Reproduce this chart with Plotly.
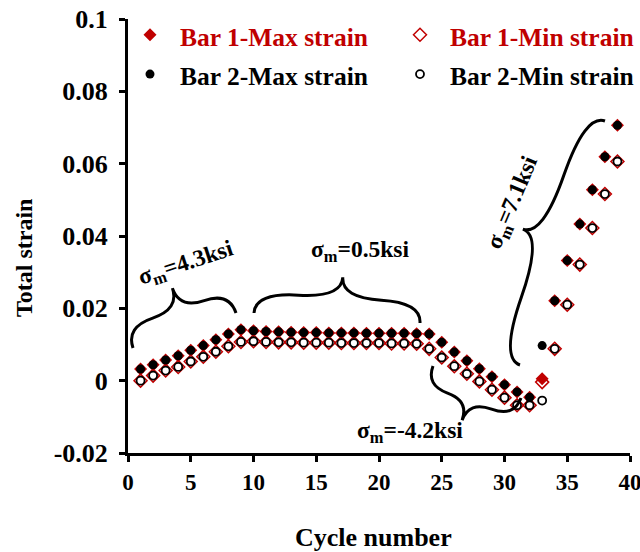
import math
import plotly.graph_objects as go

# ---------------- data ----------------
cycles = list(range(1, 40))

bar1_max = [0.0032, 0.0044, 0.0057, 0.0069, 0.0084, 0.0097, 0.0113, 0.0129, 0.0141, 0.0138,
            0.0136, 0.0135, 0.0134, 0.0133, 0.0133, 0.0132, 0.0132, 0.0132, 0.0131, 0.0131,
            0.0131, 0.0131, 0.0130, 0.0129, 0.0106, 0.0079, 0.0055, 0.0033, 0.0011, -0.0011,
            -0.0031, -0.0046, 0.0005, 0.0221, 0.0332, 0.0433, 0.0528, 0.0619, 0.0706]
bar2_max = [0.0032, 0.0044, 0.0057, 0.0069, 0.0084, 0.0097, 0.0113, 0.0129, 0.0141, 0.0138,
            0.0136, 0.0135, 0.0134, 0.0133, 0.0133, 0.0132, 0.0132, 0.0132, 0.0131, 0.0131,
            0.0131, 0.0131, 0.0130, 0.0129, 0.0106, 0.0079, 0.0055, 0.0033, 0.0011, -0.0011,
            -0.0031, -0.0046, 0.0097, 0.0221, 0.0332, 0.0433, 0.0528, 0.0619, 0.0706]
bar1_min = [0.0000, 0.0014, 0.0028, 0.0038, 0.0053, 0.0066, 0.0080, 0.0095, 0.0107, 0.0109,
            0.0107, 0.0106, 0.0106, 0.0105, 0.0105, 0.0105, 0.0104, 0.0104, 0.0104, 0.0104,
            0.0103, 0.0103, 0.0102, 0.0088, 0.0064, 0.0040, 0.0019, -0.0002, -0.0025, -0.0047,
            -0.0068, -0.0068, -0.0004, 0.0088, 0.0210, 0.0321, 0.0422, 0.0516, 0.0606]
bar2_min = [0.0000, 0.0014, 0.0028, 0.0038, 0.0053, 0.0066, 0.0080, 0.0095, 0.0107, 0.0109,
            0.0107, 0.0106, 0.0106, 0.0105, 0.0105, 0.0105, 0.0104, 0.0104, 0.0104, 0.0104,
            0.0103, 0.0103, 0.0102, 0.0088, 0.0064, 0.0040, 0.0019, -0.0002, -0.0025, -0.0047,
            -0.0068, -0.0068, -0.0055, 0.0088, 0.0210, 0.0321, 0.0422, 0.0516, 0.0606]

x_ticks = [0, 5, 10, 15, 20, 25, 30, 35, 40]
y_ticks = [-0.02, 0, 0.02, 0.04, 0.06, 0.08, 0.1]
y_tick_text = ["-0.02", "0", "0.02", "0.04", "0.06", "0.08", "0.1"]

series_names = ["Bar 1-Max strain", "Bar 1-Min strain", "Bar 2-Max strain", "Bar 2-Min strain"]

# ---------------- style / layout ----------------
RED = "#C00000"
FONT = "Liberation Serif"
W, H = 640, 552
ML, MR, MT, MB = 128, 10, 19, 99
PW, PH = W - ML - MR, H - MT - MB
XR = (0, 40)
YR = (-0.02, 0.1)


def px2data(px, py):
    x = XR[0] + (px - ML) / PW * (XR[1] - XR[0])
    y = YR[1] - (py - MT) / PH * (YR[1] - YR[0])
    return x, y


def px2paper(px, py):
    return (px - ML) / PW, 1 - (py - MT) / PH


def brace_path(p1, p2, w, f=0.5, q=0.5):
    (x1, y1), (x2, y2) = p1, p2
    L = math.hypot(x2 - x1, y2 - y1)
    ux, uy = (x2 - x1) / L, (y2 - y1) / L
    nx, ny = uy, -ux

    def pt(t, h):
        return (x1 + t * L * ux + h * nx, y1 + t * L * uy + h * ny)

    c1 = (x1 + q * w * nx, y1 + q * w * ny)
    m1 = pt(f / 2, (1 - q) * w)
    tip = pt(f, w)
    c2 = (x2 + q * w * nx, y2 + q * w * ny)
    m2 = pt(f + (1 - f) / 2, (1 - q) * w)

    def s(p):
        d = px2data(*p)
        return f"{d[0]:.4f},{d[1]:.6f}"

    return (f"M {s(p1)} Q {s(c1)} {s(m1)} T {s(tip)} "
            f"M {s(p2)} Q {s(c2)} {s(m2)} T {s(tip)}")


def legend_label(text, color):
    return f'<span style="color:{color};font-size:25.5px">{text}</span>'


fig = go.Figure()

fig.add_trace(go.Scatter(
    x=cycles, y=bar1_max, mode="markers", name=legend_label(series_names[0], RED),
    marker=dict(symbol="diamond", size=10, color=RED, line=dict(width=0)), cliponaxis=False))
fig.add_trace(go.Scatter(
    x=cycles, y=bar1_min, mode="markers", name=legend_label(series_names[1], RED),
    marker=dict(symbol="diamond-open", size=10, color=RED, line=dict(width=1.5, color=RED)), cliponaxis=False))
fig.add_trace(go.Scatter(
    x=cycles, y=bar2_max, mode="markers", name=legend_label(series_names[2], "black"),
    marker=dict(symbol="circle", size=9, color="black", line=dict(width=0)), cliponaxis=False))
fig.add_trace(go.Scatter(
    x=cycles, y=bar2_min, mode="markers", name=legend_label(series_names[3], "black"),
    marker=dict(symbol="circle", size=8, color="white", line=dict(width=1.8, color="black")), cliponaxis=False))

# braces (pixel anchor points, converted through axis scales)
braces = [
    ((133, 348), (236, 313), 44, 0.52),
    ((254, 313), (420, 323), 41, 0.52),
    ((433, 366), (521, 398), -41, 0.49),
    ((605, 121), (520, 365), -42, 0.5),
]
shapes = []
for p1, p2, w, f in braces:
    shapes.append(dict(type="path", xref="x", yref="y", path=brace_path(p1, p2, w, f),
                       line=dict(color="black", width=3)))

labels = [
    ("σ<sub>m</sub>=4.3ksi", 186, 264, -18),
    ("σ<sub>m</sub>=0.5ksi", 360, 251, 0),
    ("σ<sub>m</sub>=-4.2ksi", 410, 432, 0),
    ("σ<sub>m</sub>=7.1ksi", 513, 203, -67),
]
annotations = []
for txt, px, py, ang in labels:
    ax, ay = px2paper(px, py)
    annotations.append(dict(text=txt, x=ax, y=ay, xref="paper", yref="paper", showarrow=False,
                            textangle=ang, xanchor="center", yanchor="middle",
                            font=dict(family=FONT, size=23.5, color="black", weight="bold")))

tx, ty = px2paper(24, 258)
annotations.append(dict(text="Total strain", x=tx, y=ty, xref="paper", yref="paper", showarrow=False,
                        textangle=-90, xanchor="center", yanchor="middle",
                        font=dict(family=FONT, size=24, color="black", weight="bold")))
tx, ty = px2paper(373, 537)
annotations.append(dict(text="Cycle number", x=tx, y=ty, xref="paper", yref="paper", showarrow=False,
                        xanchor="center", yanchor="middle",
                        font=dict(family=FONT, size=26, color="black", weight="bold")))

lx, ly = px2paper(120, 10)
fig.update_layout(
    width=W, height=H,
    margin=dict(l=ML, r=MR, t=MT, b=MB, autoexpand=False),
    paper_bgcolor="white", plot_bgcolor="white",
    font=dict(family=FONT, color="black"),
    showlegend=True,
    legend=dict(orientation="h", x=lx, y=ly, xanchor="left", yanchor="top",
                entrywidth=205, entrywidthmode="pixels", itemwidth=50,
                bgcolor="rgba(0,0,0,0)", borderwidth=0, traceorder="normal",
                font=dict(family=FONT, size=28, color="black", weight="bold")),
    xaxis=dict(range=list(XR), tickvals=x_ticks, showgrid=False, zeroline=False,
               showline=True, linecolor="black", linewidth=3,
               ticks="outside", ticklen=6, tickwidth=3, tickcolor="black",
               ticklabeloverflow="allow",
               tickfont=dict(family=FONT, size=23, color="black", weight="bold")),
    yaxis=dict(range=list(YR), tickvals=y_ticks, ticktext=y_tick_text, showgrid=False, zeroline=False,
               showline=True, linecolor="black", linewidth=3,
               ticks="outside", ticklen=6, tickwidth=3, tickcolor="black",
               ticklabelstandoff=6,
               tickfont=dict(family=FONT, size=26, color="black", weight="bold")),
    shapes=shapes,
    annotations=annotations,
)

fig.write_html("out.html")
